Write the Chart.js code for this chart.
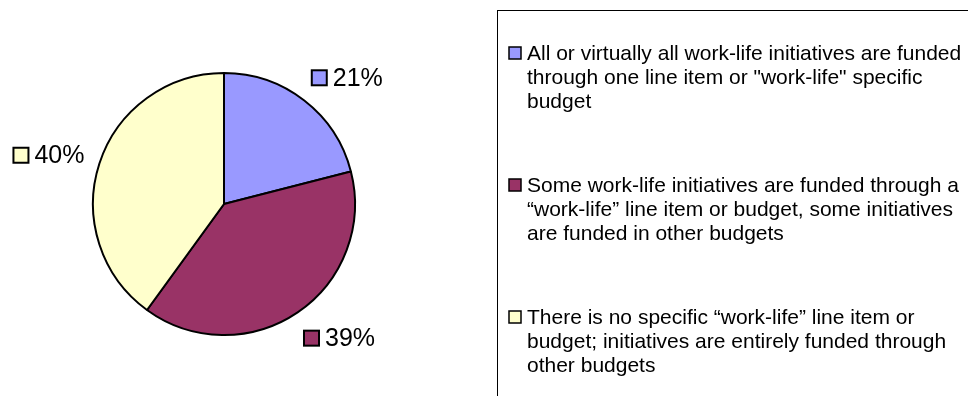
<!DOCTYPE html>
<html>
<head>
<meta charset="utf-8">
<script src="https://cdn.jsdelivr.net/npm/chart.js@4/dist/chart.umd.min.js"></script>
<style>
html,body{margin:0;padding:0;background:#ffffff;}
#wrap{width:968px;height:396px;position:relative;}
</style>
</head>
<body>
<div id="wrap"><canvas id="c" width="968" height="396"></canvas></div>
<script>
const categories = [
  ['All or virtually all work-life initiatives are funded', 'through one line item or "work-life" specific', 'budget'],
  ['Some work-life initiatives are funded through a', '\u201cwork-life\u201d line item or budget, some initiatives', 'are funded in other budgets'],
  ['There is no specific \u201cwork-life\u201d line item or', 'budget; initiatives are entirely funded through', 'other budgets']
];
const shares = [21, 39, 40];

const FONT = '"Liberation Sans", Arial, Helvetica, sans-serif';

const pctLabels = {
  id: 'pctLabels',
  afterDatasetsDraw(chart) {
    const ctx = chart.ctx;
    const meta = chart.getDatasetMeta(0);
    ctx.save();
    ctx.font = '25px ' + FONT;
    ctx.textBaseline = 'middle';
    ctx.textAlign = 'left';
    meta.data.forEach((arc, i) => {
      const p = arc.getProps(['x', 'y', 'startAngle', 'endAngle', 'outerRadius'], true);
      const mid = (p.startAngle + p.endAngle) / 2;
      const dx = Math.cos(mid), dy = Math.sin(mid);
      const ax = p.x + dx * (p.outerRadius + 22);
      const ay = p.y + dy * (p.outerRadius + 22);
      const text = chart.data.datasets[0].data[i] + '%';
      const tw = ctx.measureText(text).width;
      const box = 15, gap = 6, gw = box + gap + tw;
      const cx = ax + Math.sign(dx) * (gw / 2 - 6);
      const cy = ay + dy * 8 + 1;
      const left = cx - gw / 2;
      ctx.fillStyle = arc.options.backgroundColor;
      ctx.fillRect(left, cy - box / 2, box, box);
      ctx.lineWidth = 2;
      ctx.strokeStyle = '#000000';
      ctx.strokeRect(left, cy - box / 2, box, box);
      ctx.fillStyle = '#000000';
      ctx.fillText(text, left + box + gap, cy + 1);
    });
    ctx.restore();
  }
};

const legendBox = {
  id: 'legendBox',
  afterDraw(chart) {
    const ctx = chart.ctx;
    const meta = chart.getDatasetMeta(0);
    ctx.save();
    ctx.strokeStyle = '#000000';
    ctx.lineWidth = 1;
    ctx.strokeRect(497.5, 10.5, 500, 420);
    ctx.font = '21px ' + FONT;
    ctx.textBaseline = 'middle';
    ctx.textAlign = 'left';
    chart.data.labels.forEach((lines, i) => {
      const y0 = 53 + i * 132;
      const box = 12;
      ctx.fillStyle = meta.data[i].options.backgroundColor;
      ctx.fillRect(509, y0 - box / 2, box, box);
      ctx.lineWidth = 1.5;
      ctx.strokeStyle = '#000000';
      ctx.strokeRect(509, y0 - box / 2, box, box);
      ctx.fillStyle = '#000000';
      lines.forEach((t, j) => ctx.fillText(t, 527, y0 + j * 24 + 1));
    });
    ctx.restore();
  }
};

new Chart(document.getElementById('c'), {
  type: 'pie',
  data: {
    labels: categories,
    datasets: [{
      data: shares,
      backgroundColor: ['#9999FF', '#993366', '#FFFFCC'],
      borderColor: '#000000',
      borderWidth: 2
    }]
  },
  options: {
    responsive: false,
    devicePixelRatio: 1,
    animation: false,
    layout: { padding: { left: 92, right: 612, top: 72, bottom: 60 } },
    plugins: {
      legend: { display: false },
      tooltip: { enabled: false }
    }
  },
  plugins: [pctLabels, legendBox]
});
</script>
</body>
</html>
